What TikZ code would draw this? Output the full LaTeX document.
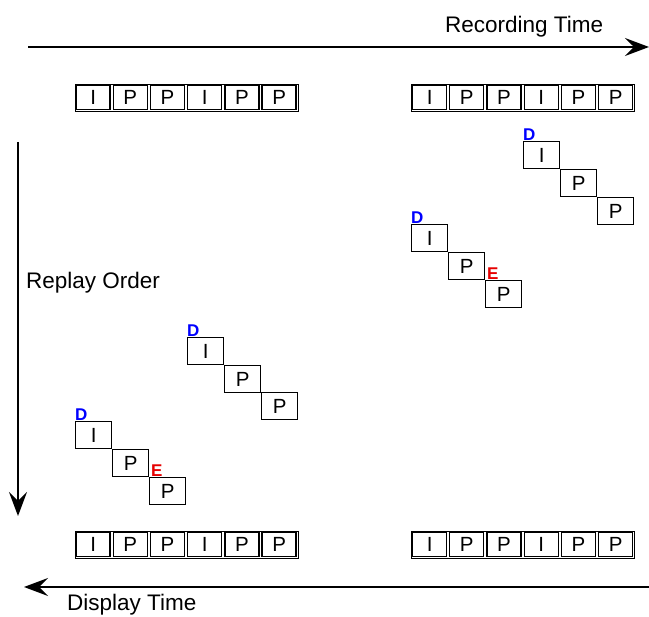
\documentclass[tikz,border=0pt]{standalone}
\usepackage{fontspec}
\setmainfont{Liberation Sans}
\usetikzlibrary{arrows.meta,calc}
\definecolor{dblue}{RGB}{0,0,255}
\definecolor{ered}{RGB}{230,0,0}
\tikzset{
  rowbox/.style={draw, line width=1.3pt, minimum width=223pt, minimum height=27pt, inner sep=0pt, anchor=north west},
  cellbox/.style={draw, line width=1.3pt, minimum width=34pt, minimum height=24pt, inner sep=0pt, font=\fontsize{20.5}{22}\selectfont},
  stepbox/.style={draw, line width=1.3pt, minimum width=36pt, minimum height=27pt, inner sep=0pt, anchor=north west, font=\fontsize{20.5}{22}\selectfont},
  dlab/.style={text=dblue, font=\bfseries\fontsize{17}{18}\selectfont, inner sep=0pt, anchor=south west},
  elab/.style={text=ered, font=\bfseries\fontsize{17}{18}\selectfont, inner sep=0pt, anchor=south west},
  axisarrow/.style={line width=1.6pt, -{Stealth[length=24pt, width=18pt, inset=9pt]}},
  axislabel/.style={font=\fontsize{22.5}{26}\selectfont, inner sep=0pt, anchor=west}
}
\newcommand\framerow[3]{%
  \node[rowbox] (#1) at (#2,#3) {};
  \foreach \l [count=\i] in {I,P,P,I,P,P}
    \node[cellbox] (#1-\i) at ({#2+(\i-0.5)*37.2},{#3+13.5}) {\l};
}
\begin{document}
\begin{tikzpicture}[x=1pt,y=-1pt]
\useasboundingbox (0,0) rectangle (649,617);
% axes
\coordinate (rt0) at (28,47);
\coordinate (rt1) at (649,47);
\draw[axisarrow] (rt0) -- (rt1);
\node[axislabel] (rtl) at (445,27) {Recording Time};
\coordinate (ro0) at (18,142);
\coordinate (ro1) at (18,516);
\draw[axisarrow] (ro0) -- (ro1);
\node[axislabel] (rol) at (26,283) {Replay Order};
\coordinate (dt0) at (649,587);
\coordinate (dt1) at (24,587);
\draw[axisarrow] (dt0) -- (dt1);
\node[axislabel] (dtl) at (67,605) {Display Time};
% frame rows
\framerow{tl}{74.5}{84}
\framerow{tr}{411}{84}
\framerow{bl}{74.5}{531}
\framerow{br}{411}{531}
% staircase 1 (top right)
\node[stepbox] (a1) at (523,141) {I};
\node[stepbox] (a2) at (560,169) {P};
\node[stepbox] (a3) at (597,197) {P};
\node[dlab] (a1d) at (a1.north west) {D};
% staircase 2
\node[stepbox] (b1) at (411,224) {I};
\node[stepbox] (b2) at (448,252) {P};
\node[stepbox] (b3) at (485,280) {P};
\node[dlab] (b1d) at (b1.north west) {D};
\node[elab] (b3e) at ($(b3.north west)+(2,0)$) {E};
% staircase 3
\node[stepbox] (c1) at (187,337) {I};
\node[stepbox] (c2) at (224,365) {P};
\node[stepbox] (c3) at (261,392) {P};
\node[dlab] (c1d) at (c1.north west) {D};
% staircase 4
\node[stepbox] (d1) at (75,421) {I};
\node[stepbox] (d2) at (112,449) {P};
\node[stepbox] (d3) at (149,477) {P};
\node[dlab] (d1d) at (d1.north west) {D};
\node[elab] (d3e) at ($(d3.north west)+(2,0)$) {E};
\end{tikzpicture}
\end{document}
